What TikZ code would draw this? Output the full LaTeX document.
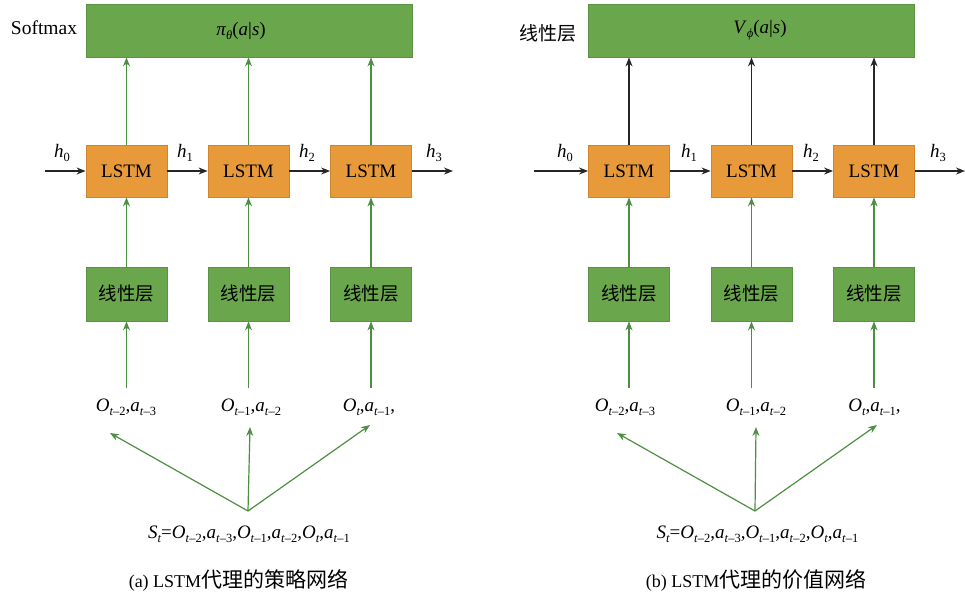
\documentclass[tikz,border=0pt]{standalone}
\usepackage{fontspec}
\setmainfont{Liberation Serif}
\newfontfamily\cjk{Noto Sans CJK SC}
\usetikzlibrary{arrows.meta,calc}
\definecolor{gfill}{HTML}{6AA64B}
\definecolor{gdraw}{HTML}{5A9442}
\definecolor{ofill}{HTML}{E8993A}
\definecolor{odraw}{HTML}{D0842C}
\definecolor{garrow}{HTML}{4C8F40}
\definecolor{karrow}{HTML}{262626}
\newcommand\sbs[1]{\raisebox{-4.5pt}{\fontsize{12.5}{13}\selectfont\itshape #1}}
\newcommand\sbu[1]{\raisebox{-4.5pt}{\fontsize{12.5}{13}\selectfont #1}}
\newcommand\tm[1]{\sbu{\textit{t}–#1}}
\begin{document}
\begin{tikzpicture}[x=1pt,y=-1pt,
  topbox/.style={draw=gdraw, fill=gfill, line width=0.8pt, minimum width=326pt, minimum height=53pt, inner sep=0pt},
  lstmbox/.style={draw=odraw, fill=ofill, line width=0.8pt, minimum width=81pt, minimum height=52pt, inner sep=0pt, font=\fontsize{19}{20}\selectfont},
  linbox/.style={draw=gdraw, fill=gfill, line width=0.8pt, minimum width=81pt, minimum height=54pt, inner sep=0pt, font=\cjk\fontsize{18.5}{20}\selectfont},
  garr/.style={draw=garrow, line width=1.2pt, -{Stealth[length=9pt,width=7pt]}},
  karr/.style={draw=karrow, line width=1.2pt, -{Stealth[length=9pt,width=7pt]}},
  lbl/.style={inner sep=2pt, font=\fontsize{19}{20}\selectfont, anchor=base},
  captext/.style={inner sep=2pt, font=\fontsize{18}{20}\selectfont, anchor=base},
  ]
\useasboundingbox (0,0) rectangle (965,598);

% ================= left panel =================
\node[topbox] (ta) at (249,30.5) {};
\node[lbl] (pia) at (241,35) {\textit{π}\sbs{θ}(\textit{a}|\textit{s})};
\node[lbl, font=\fontsize{19.5}{20}\selectfont] (softa) at (44,34) {Softmax};

\node[lstmbox] (a1) at (126.5,171) {LSTM};
\node[lstmbox] (a2) at (248.5,171) {LSTM};
\node[lstmbox] (a3) at (371,171) {LSTM};

\node[linbox] (la1) at (126.5,294) {线性层};
\node[linbox] (la2) at (248.5,294) {线性层};
\node[linbox] (la3) at (371,294) {线性层};

\node[lbl] (ha0) at (62,157) {\textit{h}\sbu{0}};
\node[lbl] (ha1) at (185,157) {\textit{h}\sbu{1}};
\node[lbl] (ha2) at (307,157) {\textit{h}\sbu{2}};
\node[lbl] (ha3) at (434,157) {\textit{h}\sbu{3}};

\node[lbl] (oa1) at (126,411) {\textit{O}\tm{2},\textit{a}\tm{3}};
\node[lbl] (oa2) at (251,411) {\textit{O}\tm{1},\textit{a}\tm{2}};
\node[lbl] (oa3) at (369,411) {\textit{O}\sbs{t},\textit{a}\tm{1},};

\node[lbl] (sa) at (249,538) {\textit{S}\sbs{t}=\textit{O}\tm{2},\textit{a}\tm{3},\textit{O}\tm{1},\textit{a}\tm{2},\textit{O}\sbs{t},\textit{a}\tm{1}};
\node[captext] (capa) at (238.5,587) {(a) LSTM{\cjk\fontsize{21}{22}\selectfont 代理的策略网络}};

\coordinate (hsa) at (45,171);
\coordinate (hea) at (453,171);
\draw[karr] (hsa) -- (a1.west);
\draw[karr] (a1) -- (a2);
\draw[karr] (a2) -- (a3);
\draw[karr] (a3.east) -- (hea);

\foreach \i in {1,2,3}{
  \draw[garr] (a\i.north) -- (a\i.north |- ta.south);
  \draw[garr] (la\i.north) -- (a\i.south);
  \draw[garr, shorten <=8pt] (oa\i.north -| la\i.south) -- (la\i.south);
}

\coordinate (fa) at (248,511);
\coordinate (ea1) at (110,433);
\coordinate (ea2) at (250,427);
\coordinate (ea3) at (370,425);
\foreach \i in {1,2,3}{ \draw[garr] (fa) -- (ea\i); }

% ================= right panel =================
\node[topbox] (tb) at (751.5,30.5) {};
\node[lbl] (vb) at (760,33) {\textit{V}\sbs{ϕ}(\textit{a}|\textit{s})};
\node[font=\cjk\fontsize{19}{20}\selectfont, inner sep=2pt] (linb) at (548,33) {线性层};

\node[lstmbox] (b1) at (629,171) {LSTM};
\node[lstmbox] (b2) at (751.5,171) {LSTM};
\node[lstmbox] (b3) at (874,171) {LSTM};

\node[linbox] (lb1) at (629,294) {线性层};
\node[linbox] (lb2) at (751.5,294) {线性层};
\node[linbox] (lb3) at (874,294) {线性层};

\node[lbl] (hb0) at (565,157) {\textit{h}\sbu{0}};
\node[lbl] (hb1) at (689,157) {\textit{h}\sbu{1}};
\node[lbl] (hb2) at (811,157) {\textit{h}\sbu{2}};
\node[lbl] (hb3) at (938,157) {\textit{h}\sbu{3}};

\node[lbl] (ob1) at (625,411) {\textit{O}\tm{2},\textit{a}\tm{3}};
\node[lbl] (ob2) at (756,411) {\textit{O}\tm{1},\textit{a}\tm{2}};
\node[lbl] (ob3) at (874.5,411) {\textit{O}\sbs{t},\textit{a}\tm{1},};

\node[lbl] (sb) at (757.5,538) {\textit{S}\sbs{t}=\textit{O}\tm{2},\textit{a}\tm{3},\textit{O}\tm{1},\textit{a}\tm{2},\textit{O}\sbs{t},\textit{a}\tm{1}};
\node[captext] (capb) at (756,587) {(b) LSTM{\cjk\fontsize{21}{22}\selectfont 代理的价值网络}};

\coordinate (hsb) at (534,171);
\coordinate (heb) at (965,171);
\draw[karr] (hsb) -- (b1.west);
\draw[karr] (b1) -- (b2);
\draw[karr] (b2) -- (b3);
\draw[karr] (b3.east) -- (heb);

\foreach \i in {1,2,3}{
  \draw[karr] (b\i.north) -- (b\i.north |- tb.south);
  \draw[garr] (lb\i.north) -- (b\i.south);
  \draw[garr, shorten <=8pt] (ob\i.north -| lb\i.south) -- (lb\i.south);
}

\coordinate (fb) at (755,511);
\coordinate (eb1) at (617,433);
\coordinate (eb2) at (756,427);
\coordinate (eb3) at (877,425);
\foreach \i in {1,2,3}{ \draw[garr] (fb) -- (eb\i); }
\end{tikzpicture}
\end{document}
